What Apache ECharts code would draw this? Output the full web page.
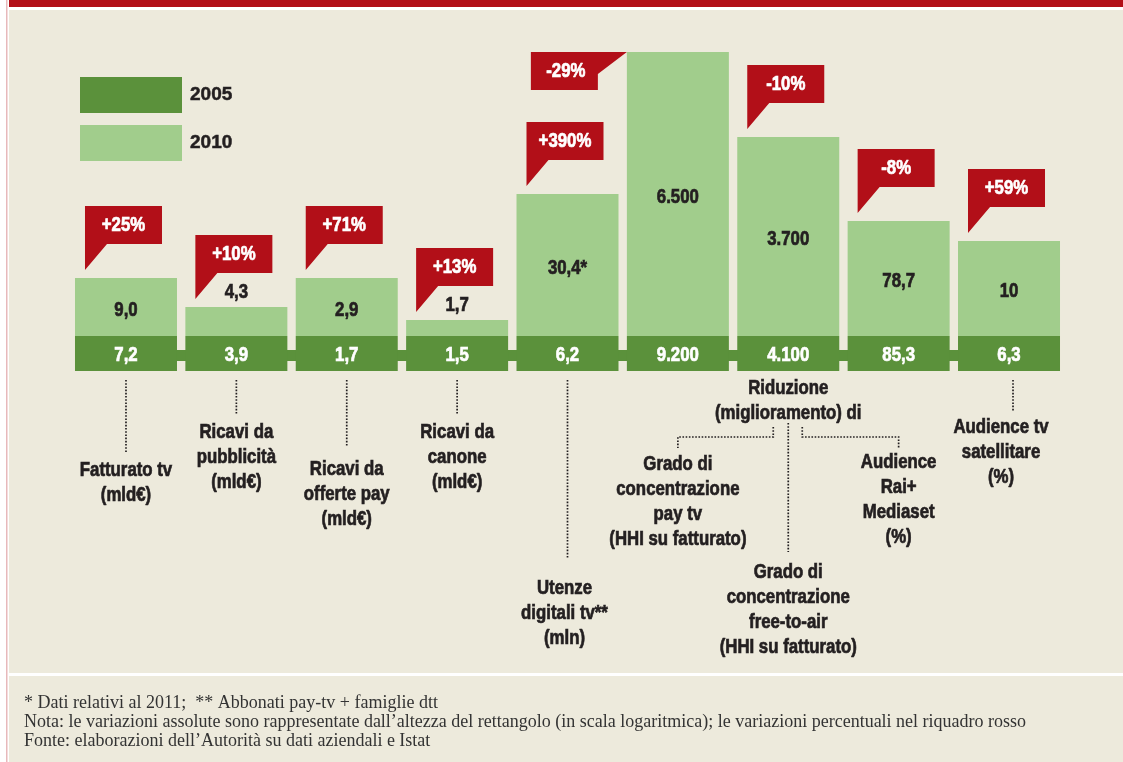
<!DOCTYPE html>
<html>
<head>
<meta charset="utf-8">
<script src="https://cdn.jsdelivr.net/npm/echarts@6/dist/echarts.min.js"></script>
<style>
html, body { margin: 0; padding: 0; background: #fff; }
#chart { width: 1123px; height: 762px; }
</style>
</head>
<body>
<div id="chart"></div>
<script>
const categorie = [
  'Fatturato tv\n(mld€)',
  'Ricavi da\npubblicità\n(mld€)',
  'Ricavi da\nofferte pay\n(mld€)',
  'Ricavi da\ncanone\n(mld€)',
  'Utenze\ndigitali tv**\n(mln)',
  'Grado di\nconcentrazione\npay tv\n(HHI su fatturato)',
  'Grado di\nconcentrazione\nfree-to-air\n(HHI su fatturato)',
  'Audience\nRai+\nMediaset\n(%)',
  'Audience tv\nsatellitare\n(%)'
]
const valori2005 = ['7,2', '3,9', '1,7', '1,5', '6,2', '9.200', '4.100', '85,3', '6,3']
const valori2010 = ['9,0', '4,3', '2,9', '1,7', '30,4*', '6.500', '3.700', '78,7', '10']
// altezza dei rettangoli (scala logaritmica)
const base2005 = [35, 35, 35, 35, 35, 35, 35, 35, 35]
const altezza2010 = [58, 29, 58, 16, 142, 284, 199, 115, 95]
const variazioni = ['+25%', '+10%', '+71%', '+13%', '+390%', '-29%', '-10%', '-8%', '+59%']
const gruppo = 'Riduzione\n(miglioramento) di'
const note = [
  '* Dati relativi al 2011;  ** Abbonati pay-tv + famiglie dtt',
  'Nota: le variazioni assolute sono rappresentate dall\u2019altezza del rettangolo (in scala logaritmica); le variazioni percentuali nel riquadro rosso',
  'Fonte: elaborazioni dell\u2019Autorità su dati aziendali e Istat'
]

const font = '"Liberation Sans", Arial, sans-serif'
const stretto = 0.84 // effetto "condensed"
const verdeScuro = '#5b913b'
const verdeChiaro = '#a1cd8c'
const rosso = '#b20f18'
const testo = '#231f20'
const barW = 102

var chart = echarts.init(document.getElementById('chart'))

// testo bold condensato (scalato in orizzontale attorno al punto d'ancora)
const testoStretto = (t, x, y, colore, vAlign) => ({
  type: 'text',
  x: x,
  y: y,
  scaleX: stretto,
  silent: true,
  style: {
    text: t, x: 0, y: 0, fill: colore, stroke: colore, lineWidth: 0.7,
    fontSize: 20, fontWeight: 'bold', fontFamily: font,
    lineHeight: 25, align: 'center', verticalAlign: vAlign || 'middle'
  }
})

const disegnaValori = (params, api) => {
  const i = api.value(0)
  const fondo = api.coord([i, 0])
  const meta = api.coord([i, api.value(1)])
  const cima = api.coord([i, api.value(2)])
  const alto = meta[1] - cima[1]
  const y2010 = alto < 40 ? cima[1] - 15 : (meta[1] + cima[1]) / 2 + 3
  return {
    type: 'group',
    children: [
      testoStretto(valori2005[i], fondo[0], (fondo[1] + meta[1]) / 2 + 2, '#fff'),
      testoStretto(valori2010[i], cima[0], y2010, testo)
    ]
  }
}

const disegnaRiquadro = (params, api) => {
  const i = api.value(0)
  const cima = api.coord([i, api.value(1)])
  const sx = cima[0] - barW / 2
  const top = cima[1]
  let punti, tx, ty
  if (top - 72 < 0) {
    // barra troppo alta: riquadro a sinistra
    const dx = sx - 29
    punti = [[dx - 67, top], [sx, top], [dx, top + 22], [dx, top + 38], [dx - 67, top + 38]]
    tx = dx - 32
    ty = top + 19
  } else {
    const punta = top - 8
    const x0 = sx + 10
    const fondo = punta - 26
    punti = [[x0, fondo - 38], [x0 + 77, fondo - 38], [x0 + 77, fondo], [x0 + 22, fondo], [x0, punta]]
    tx = x0 + 38.5
    ty = fondo - 19
  }
  return {
    type: 'group',
    children: [
      { type: 'polygon', shape: { points: punti }, style: { fill: rosso } },
      testoStretto(variazioni[i], tx, ty, '#fff')
    ]
  }
}

var option = {
  animation: false,
  backgroundColor: '#fff',
  grid: { left: 70.8, right: 58.8, top: 52, bottom: 391 },
  legend: {
    data: ['2005', '2010'],
    orient: 'vertical',
    left: 75,
    top: 72,
    icon: 'rect',
    itemWidth: 102,
    itemHeight: 36,
    itemGap: 12,
    selectedMode: false,
    textStyle: {
      fontSize: 19, fontWeight: 'bold', fontFamily: font, color: testo,
      textBorderColor: testo, textBorderWidth: 0.5, padding: [0, 0, 0, 3]
    }
  },
  xAxis: { type: 'category', data: categorie, show: false },
  yAxis: { type: 'value', min: 0, max: 319, show: false },
  series: [
    {
      name: 'connettore',
      type: 'line',
      data: categorie.map(() => 15.5),
      symbol: 'none',
      silent: true,
      z: 1,
      lineStyle: { width: 11, color: verdeScuro }
    },
    {
      name: '2005',
      type: 'bar',
      stack: 'tot',
      barWidth: barW,
      data: base2005,
      itemStyle: { color: verdeScuro }
    },
    {
      name: '2010',
      type: 'bar',
      stack: 'tot',
      barWidth: barW,
      data: altezza2010,
      itemStyle: { color: verdeChiaro }
    },
    {
      name: 'valori',
      type: 'custom',
      z: 4,
      silent: true,
      renderItem: disegnaValori,
      data: altezza2010.map((v, i) => [i, base2005[i], base2005[i] + v])
    },
    {
      name: 'variazioni',
      type: 'custom',
      z: 5,
      silent: true,
      renderItem: disegnaRiquadro,
      data: altezza2010.map((v, i) => [i, base2005[i] + v])
    }
  ]
}
chart.setOption(option)

// etichette sotto le barre
const cx = categorie.map((c, i) => chart.convertToPixel({ xAxisIndex: 0 }, i))
const punteggiato = { stroke: testo, lineWidth: 1.7, lineDash: [1.6, 1.6], fill: null }
const posEtichette = [
  { fine: 452, y: 458 },
  { fine: 415, y: 420 },
  { fine: 447, y: 457 },
  { fine: 415, y: 420 },
  { fine: 559, y: 576, dx: -3 },
  { y: 452 },
  { y: 560 },
  { y: 450 },
  { fine: 412, y: 415, dx: -8, dl: 4 }
]
const grafica = [
  { type: 'rect', shape: { x: 6, y: 0, width: 1.5, height: 762 }, style: { fill: '#e8b9bb' } },
  { type: 'rect', shape: { x: 9, y: 0, width: 1114, height: 7 }, style: { fill: rosso } },
  { type: 'rect', shape: { x: 9, y: 10, width: 1114, height: 663 }, style: { fill: '#edeadc' } },
  { type: 'rect', shape: { x: 9, y: 676, width: 1114, height: 86 }, style: { fill: '#edeadc' } }
]
posEtichette.forEach((p, i) => {
  if (p.fine) {
    const lx = cx[i] + (p.dl || 0)
    grafica.push({ type: 'polyline', shape: { points: [[lx, 380], [lx, p.fine]] }, style: punteggiato })
  }
  grafica.push(testoStretto(categorie[i], cx[i] + (p.dx || 0), p.y, testo, 'top'))
})
// gruppo "Riduzione (miglioramento) di"
grafica.push(testoStretto(gruppo, cx[6], 375.5, testo, 'top'))
grafica.push({ type: 'polyline', shape: { points: [[cx[6] - 15, 427], [cx[6] - 15, 437], [cx[5], 437], [cx[5], 448]] }, style: punteggiato })
grafica.push({ type: 'polyline', shape: { points: [[cx[6] + 14, 427], [cx[6] + 14, 437], [cx[7], 437], [cx[7], 448]] }, style: punteggiato })
grafica.push({ type: 'polyline', shape: { points: [[cx[6], 423], [cx[6], 552]] }, style: punteggiato })
// note a piè di pagina
grafica.push({
  type: 'text',
  style: {
    text: note.join('\n'), x: 24, y: 693.5, fill: '#333', fontSize: 18,
    fontFamily: '"Liberation Serif", "DejaVu Serif", serif', lineHeight: 19, verticalAlign: 'top'
  }
})
grafica.forEach(g => { g.z = -10; g.silent = true })
chart.setOption({ graphic: grafica })
</script>
</body>
</html>
